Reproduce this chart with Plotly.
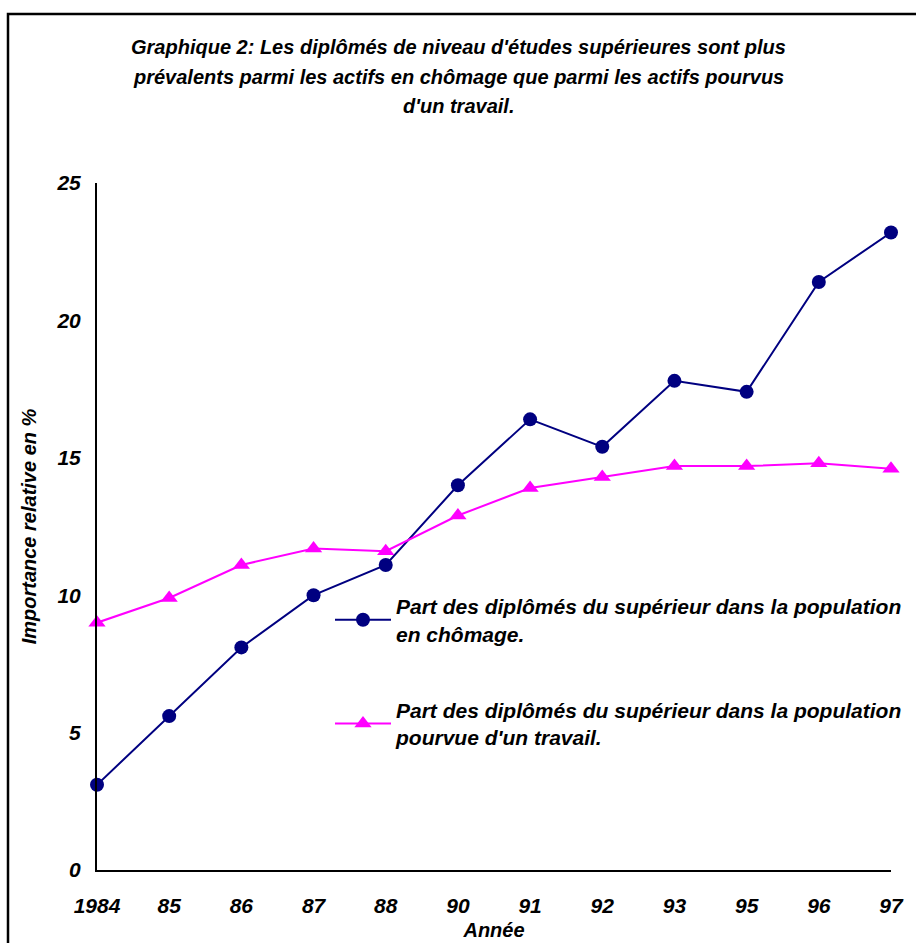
import plotly.graph_objects as go

years = ["1984", "85", "86", "87", "88", "90", "91", "92", "93", "95", "96", "97"]
chomage = [3.1, 5.6, 8.1, 10.0, 11.1, 14.0, 16.4, 15.4, 17.8, 17.4, 21.4, 23.2]
travail = [9.0, 9.9, 11.1, 11.7, 11.6, 12.9, 13.9, 14.3, 14.7, 14.7, 14.8, 14.6]
y_ticks = [0, 5, 10, 15, 20, 25]

name_chomage = "Part des diplômés du supérieur dans la population<br>en chômage."
name_travail = "Part des diplômés du supérieur dans la population<br>pourvue d'un travail."
title_lines = [
    "Graphique 2: Les diplômés de niveau d'études supérieures sont plus",
    "prévalents parmi les actifs en chômage que parmi les actifs pourvus",
    "d'un travail.",
]

FONT = "Liberation Sans, Arial, sans-serif"

# plot area geometry (pixels)
L, R, T, B = 97, 891, 183, 870
W, H = 794, 687

def px_x(p):
    return (p - L) / W

def px_y(p):
    return (B - p) / H

fig = go.Figure()
fig.add_trace(go.Scatter(
    x=years, y=chomage, name=name_chomage, mode="lines+markers",
    line=dict(color="#000080", width=2),
    marker=dict(symbol="circle", size=14, color="#000080"),
    cliponaxis=False, legendgroup="a",
))
fig.add_trace(go.Scatter(
    x=years, y=travail, name=name_travail, mode="lines+markers",
    line=dict(color="#FF00FF", width=2),
    marker=dict(symbol="triangle-up", size=15, color="#FF00FF"),
    cliponaxis=False, legendgroup="b",
))

annotations = []
for line, yp in zip(title_lines, [47, 77, 106]):
    annotations.append(dict(
        text="<b><i>" + line + "</i></b>", showarrow=False,
        xref="paper", yref="paper", x=px_x(458), y=px_y(yp),
        xanchor="center", yanchor="middle",
        font=dict(family=FONT, size=20, color="black"),
    ))

fig.update_layout(
    width=916, height=943,
    paper_bgcolor="white", plot_bgcolor="white",
    margin=dict(l=L, r=916 - R, t=T, b=943 - B, autoexpand=False),
    font=dict(family=FONT, color="black"),
    annotations=annotations,
    legend=dict(
        x=px_x(330), xanchor="left",
        y=px_y(586), yanchor="top",
        font=dict(family=FONT, size=21, color="black", weight="bold", style="italic"),
        bgcolor="rgba(0,0,0,0)", borderwidth=0,
        traceorder="grouped", tracegroupgap=46,
        itemwidth=56,
    ),
    showlegend=True,
    xaxis=dict(
        type="category", range=[0, 11], automargin=False,
        showgrid=False, zeroline=False,
        showline=True, linecolor="black", linewidth=2,
        ticks="", ticklabelstandoff=16,
        tickfont=dict(family=FONT, size=21, color="black", weight="bold", style="italic"),
        title=dict(text="<b><i>Année</i></b>", font=dict(family=FONT, size=20, color="black"), standoff=7),
    ),
    yaxis=dict(
        range=[0, 25], tickvals=y_ticks, automargin=False,
        showgrid=False, zeroline=False,
        showline=True, linecolor="black", linewidth=2,
        ticks="outside", ticklen=0, tickcolor="rgba(0,0,0,0)", ticklabelstandoff=10,
        tickfont=dict(family=FONT, size=21, color="black", weight="bold", style="italic"),
        title=dict(text="<b><i>Importance relative en %</i></b>", font=dict(family=FONT, size=20, color="black"), standoff=14),
    ),
    shapes=[dict(
        type="rect", xref="paper", yref="paper",
        x0=px_x(8), x1=1.2, y0=-0.3, y1=px_y(14),
        line=dict(color="black", width=2.5), fillcolor="rgba(0,0,0,0)", layer="below",
    )],
)

fig.write_html("out.html", config={"displayModeBar": False},
               post_script="document.body.style.margin='0';")
